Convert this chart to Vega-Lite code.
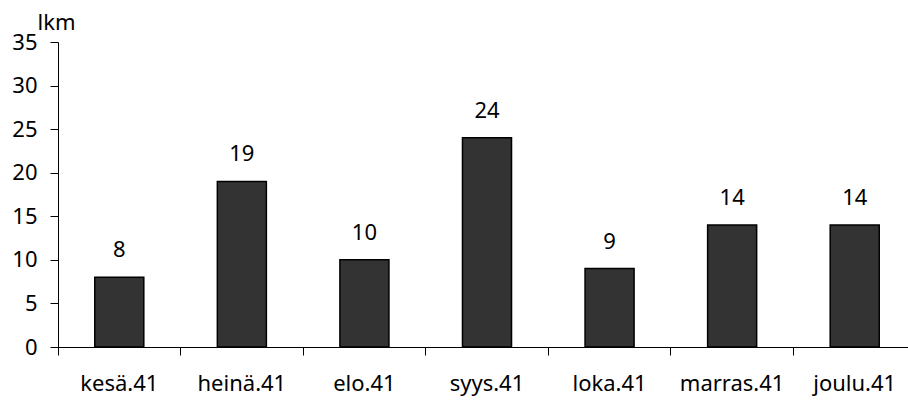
{
  "$schema": "https://vega.github.io/schema/vega-lite/v6.json",
  "width": 850,
  "height": 305,
  "autosize": "none",
  "padding": {"left": 58, "top": 42, "right": 0, "bottom": 54},
  "background": "white",
  "config": {
    "view": {"stroke": null},
    "font": "Noto Sans",
    "axis": {"labelFont": "Noto Sans", "titleFont": "Noto Sans", "labelColor": "black", "titleColor": "black", "domainColor": "black", "tickColor": "black", "grid": false}
  },
  "data": {"values": [
    {"kuukausi": "kesä.41", "lkm": 8},
    {"kuukausi": "heinä.41", "lkm": 19},
    {"kuukausi": "elo.41", "lkm": 10},
    {"kuukausi": "syys.41", "lkm": 24},
    {"kuukausi": "loka.41", "lkm": 9},
    {"kuukausi": "marras.41", "lkm": 14},
    {"kuukausi": "joulu.41", "lkm": 14}
  ]},
  "encoding": {
    "x": {
      "field": "kuukausi", "type": "nominal", "sort": null,
      "scale": {"range": [0, 858], "paddingInner": 0, "paddingOuter": 0},
      "axis": {"title": null, "labelAngle": 0, "labelFontSize": 22, "bandPosition": 0, "tickSize": 8, "labelPadding": 18, "domainWidth": 1}
    },
    "y": {
      "field": "lkm", "type": "quantitative",
      "scale": {"domain": [0, 35], "nice": false},
      "axis": {"values": [0, 5, 10, 15, 20, 25, 30, 35], "tickSize": 8, "labelFontSize": 22, "labelPadding": 13, "title": "lkm", "titleAngle": 0, "titleFontSize": 22, "titleFontWeight": "normal", "titleAlign": "left", "titleBaseline": "alphabetic", "titleX": -21, "titleY": -13}
    }
  },
  "layer": [
    {"mark": {"type": "bar", "width": {"band": 0.4}, "fill": "#333333", "stroke": "black", "strokeWidth": 1.5}},
    {"mark": {"type": "text", "baseline": "bottom", "dy": -15, "fontSize": 22, "color": "black"}, "encoding": {"text": {"field": "lkm", "type": "quantitative"}}}
  ]
}
